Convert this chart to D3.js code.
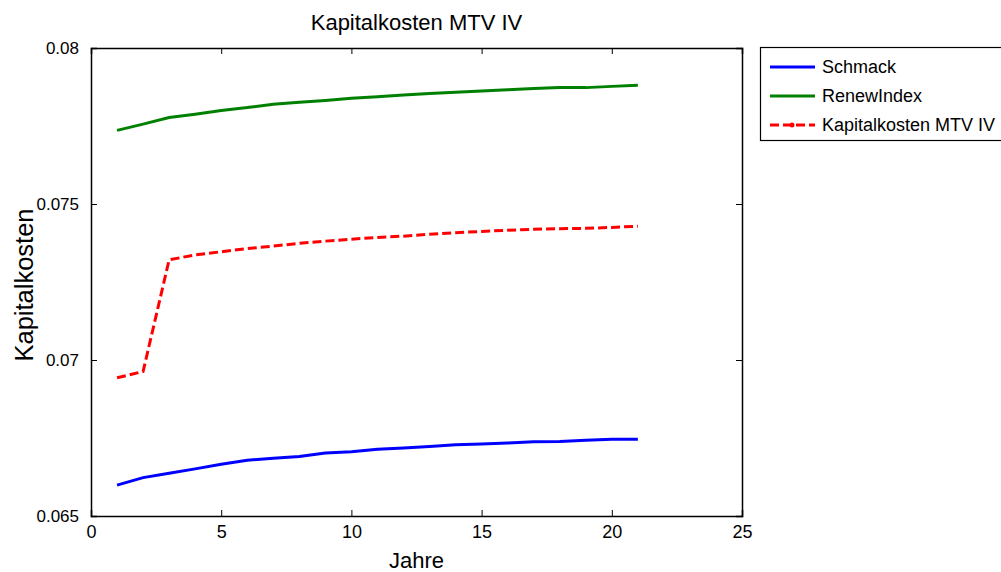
<!DOCTYPE html>
<html><head><meta charset="utf-8">
<script src="https://cdn.jsdelivr.net/npm/d3@7"></script>
<style>
body{margin:0;background:#fff;}
svg{display:block;}
text{font-family:"Liberation Sans",Arial,sans-serif;fill:#000;}
</style></head><body>
<svg id="chart" width="1001" height="572"></svg>
<script>
const years = [1,2,3,4,5,6,7,8,9,10,11,12,13,14,15,16,17,18,19,20,21];
const schmack = [0.06599,0.06623,0.06637,0.06651,0.06666,0.06679,0.06685,0.06691,0.06702,0.06706,0.06714,0.06718,0.06723,0.06728,0.06731,0.06734,0.06738,0.06739,0.06743,0.06746,0.06746];
const renewIndex = [0.07736,0.07756,0.07777,0.07788,0.07800,0.07809,0.07820,0.07826,0.07832,0.07839,0.07844,0.07849,0.07854,0.07858,0.07862,0.07866,0.07870,0.07873,0.07873,0.07877,0.07881];
const kapitalkosten = [0.06943,0.06963,0.07321,0.07337,0.07347,0.07357,0.07365,0.07374,0.07381,0.07387,0.07393,0.07397,0.07403,0.07408,0.07412,0.07416,0.07419,0.07421,0.07422,0.07425,0.07429];
const xTicks = [0,5,10,15,20,25];
const yTicks = [0.065,0.07,0.075,0.08];
const yTickLabels = ["0.065","0.07","0.075","0.08"];
const seriesNames = ["Schmack","RenewIndex","Kapitalkosten MTV IV"];
const seriesColors = ["#0000ff","#008000","#ff0000"];
const chartTitle = "Kapitalkosten MTV IV";
const xLabel = "Jahre";
const yLabel = "Kapitalkosten";

(function(){
const svg = d3.select("#chart");
const L=91, R=742, T=48, B=516;
const x = d3.scaleLinear().domain([0,25]).range([L,R]);
const y = d3.scaleLinear().domain([0.065,0.08]).range([B,T]);

const g = svg.append("g");
const axB = g.append("g").attr("transform",`translate(0,${B})`)
  .call(d3.axisBottom(x).tickValues(xTicks).tickSize(-6).tickPadding(9).tickFormat(d3.format("d")));
const axT = g.append("g").attr("transform",`translate(0,${T})`)
  .call(d3.axisTop(x).tickValues(xTicks).tickSize(-6).tickFormat(""));
const axL = g.append("g").attr("transform",`translate(${L},0)`)
  .call(d3.axisLeft(y).tickValues(yTicks).tickSize(-6).tickPadding(12).tickFormat((d,i)=>yTickLabels[i]));
const axR = g.append("g").attr("transform",`translate(${R},0)`)
  .call(d3.axisRight(y).tickValues(yTicks).tickSize(-6).tickFormat(""));
[axB,axT,axL,axR].forEach(a=>{
  a.select(".domain").attr("stroke","#000").attr("stroke-width",1.5);
  a.selectAll(".tick line").attr("stroke","#000").attr("stroke-width",1);
  a.selectAll("text").style("font-size","17px").attr("fill","#000");
});
axB.selectAll("text").style("font-size","18px");

const data = [schmack, renewIndex, kapitalkosten];
const line = d3.line().x((d,i)=>x(years[i])).y(d=>y(d));
data.forEach((s,k)=>{
  svg.append("path").datum(s).attr("d",line).attr("fill","none")
    .attr("stroke",seriesColors[k]).attr("stroke-width",3)
    .attr("stroke-dasharray", k===2 ? "9,4" : null);
});

svg.append("text").attr("x",(L+R)/2).attr("y",30).attr("text-anchor","middle").style("font-size","22px").text(chartTitle);
svg.append("text").attr("x",(L+R)/2).attr("y",568).attr("text-anchor","middle").style("font-size","22px").text(xLabel);
svg.append("text").attr("transform",`translate(33,285) rotate(-90)`).attr("text-anchor","middle").style("font-size","25.5px").text(yLabel);

const lg = svg.append("g");
lg.append("rect").attr("x",760.5).attr("y",47.5).attr("width",250).attr("height",93).attr("fill","#fff").attr("stroke","#000").attr("stroke-width",1.2);
const rowsY = [67,96,125];
seriesNames.forEach((n,k)=>{
  lg.append("line").attr("x1",770).attr("x2",815).attr("y1",rowsY[k]).attr("y2",rowsY[k])
    .attr("stroke",seriesColors[k]).attr("stroke-width",3).attr("stroke-dasharray",k===2?"9,4":null);
  if(k===2) lg.append("circle").attr("cx",792).attr("cy",rowsY[k]).attr("r",2.5).attr("fill",seriesColors[k]);
  lg.append("text").attr("x",822).attr("y",rowsY[k]).attr("dy","0.35em").style("font-size","18px").text(n);
});
})();
</script></body></html>
